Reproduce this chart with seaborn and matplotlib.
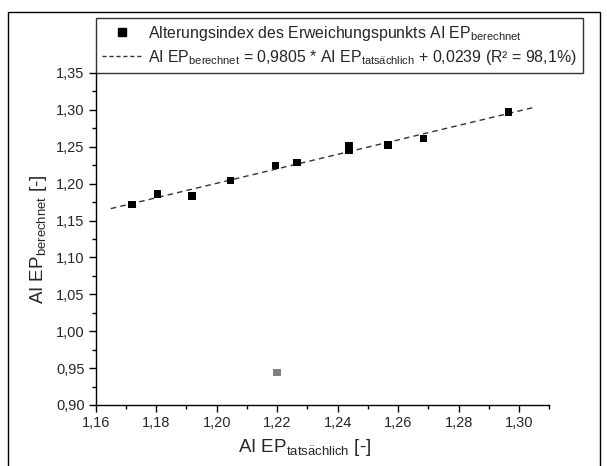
import matplotlib
matplotlib.use("Agg")
import matplotlib.pyplot as plt
from matplotlib.lines import Line2D
from matplotlib.patches import Rectangle
from matplotlib.ticker import MultipleLocator, FuncFormatter
import numpy as np
import pandas as pd
import seaborn as sns

# Measured vs. calculated ageing index of the softening point
ai_tatsaechlich = [1.172, 1.1804, 1.1919, 1.2045, 1.2195, 1.2266, 1.2438, 1.2438, 1.2567, 1.2685, 1.2966]
ai_berechnet = [1.1721, 1.1861, 1.1834, 1.2041, 1.2245, 1.2291, 1.2521, 1.2448, 1.2525, 1.2616, 1.2973]

# Outlier excluded from the fit
outlier_x = [1.22]
outlier_y = [0.944]

# Regression: AI EP_berechnet = slope * AI EP_tatsaechlich + intercept
slope = 0.9805
intercept = 0.0239
r2_text = "98,1%"
fit_x = [1.165, 1.305]

x_ticks = [1.16, 1.18, 1.20, 1.22, 1.24, 1.26, 1.28, 1.30]
y_ticks = [0.90, 0.95, 1.00, 1.05, 1.10, 1.15, 1.20, 1.25, 1.30, 1.35]

sns.set_style("ticks")
plt.rcParams["font.family"] = ["Liberation Sans", "DejaVu Sans"]
plt.rcParams["mathtext.fontset"] = "custom"
plt.rcParams["mathtext.rm"] = "Liberation Sans"

W, H = 607, 466
fig = plt.figure(figsize=(W / 100, H / 100), dpi=100)
ax = fig.add_axes([95.7 / W, (H - 405) / H, (549.3 - 95.7) / W, (405 - 73) / H])

# Outer frame around the figure
fig.patches.append(Rectangle((8 / W, -0.05), (600 - 8) / W, (H - 12) / H + 0.05,
                             transform=fig.transFigure, fill=False, edgecolor="black",
                             linewidth=1.0, zorder=0))

pts = pd.DataFrame({"x": ai_tatsaechlich, "y": ai_berechnet})
fit = pd.DataFrame({"x": fit_x, "y": [slope * v + intercept for v in fit_x]})
out = pd.DataFrame({"x": outlier_x, "y": outlier_y})

sns.lineplot(data=fit, x="x", y="y", ax=ax, color="#333333", linewidth=1.0,
             linestyle=(0, (4, 3)), zorder=2)
sns.scatterplot(data=pts, x="x", y="y", ax=ax, marker="s", s=28, color="black",
                edgecolor="none", zorder=3)
sns.scatterplot(data=out, x="x", y="y", ax=ax, marker="s", s=28, color="#808080",
                edgecolor="none", zorder=3)

ax.set_xlim(1.16, 1.31)
ax.set_ylim(0.90, 1.35)
ax.set_xticks(x_ticks)
ax.set_yticks(y_ticks)
ax.xaxis.set_minor_locator(MultipleLocator(0.01))
ax.yaxis.set_minor_locator(MultipleLocator(0.025))
comma = FuncFormatter(lambda v, p: f"{v:.2f}".replace(".", ","))
ax.xaxis.set_major_formatter(comma)
ax.yaxis.set_major_formatter(comma)
ax.tick_params(which="major", direction="out", length=5, width=1, labelsize=10.5, pad=3, color="black")
ax.tick_params(which="minor", direction="out", length=3, width=1, color="black")
for s in ("top", "right"):
    ax.spines[s].set_visible(False)
for s in ("left", "bottom"):
    ax.spines[s].set_linewidth(1.0)
    ax.spines[s].set_color("black")

ax.set_xlabel(r"AI EP$_{\mathregular{tats\ddot{a}chlich}}$ [-]", fontsize=13.5)
ax.set_ylabel(r"AI EP$_{\mathregular{berechnet}}$ [-]", fontsize=13.5)
ax.xaxis.set_label_coords((305 - 95.7) / (549.3 - 95.7), -(448 - 405) / (405 - 73), transform=ax.transAxes)
ax.xaxis.label.set_va("center")
ax.yaxis.set_label_coords(-(95.7 - 39) / (549.3 - 95.7), 0.5)
ax.yaxis.label.set_va("center")

handles = [
    Line2D([], [], marker="s", color="black", linestyle="none", markersize=5.5),
    Line2D([], [], color="#333333", linestyle=(0, (3, 2)), linewidth=1.0),
]
labels = [
    r"Alterungsindex des Erweichungspunkts AI EP$_{\mathregular{berechnet}}$",
    r"AI EP$_{\mathregular{berechnet}}$ = 0,9805 * AI EP$_{\mathregular{tats\ddot{a}chlich}}$ + 0,0239 (R² = " + r2_text + ")",
]
leg = fig.legend(handles, labels, loc="lower left",
                 bbox_to_anchor=(95.7 / W, (H - 73) / H), bbox_transform=fig.transFigure,
                 borderaxespad=0, frameon=True, fancybox=False, fontsize=11.4,
                 handlelength=2.5, handletextpad=0.4, labelspacing=0.3,
                 borderpad=0.4)
leg.get_frame().set_edgecolor("black")
leg.get_frame().set_linewidth(1.0)

fig.savefig("out.png", dpi=100)
